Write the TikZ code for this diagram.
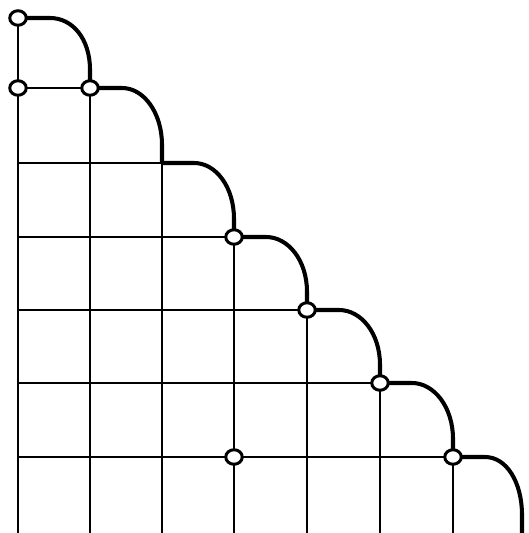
\documentclass[tikz,border=0pt]{standalone}
\usetikzlibrary{shapes.geometric, positioning, calc}

\tikzset{
  gridline/.style={line width=1.4pt},
  stepcurve/.style={line width=2.3pt},
  joint/.style={ellipse, draw, fill=white, line width=1.7pt,
    inner sep=0pt, minimum width=0.33cm, minimum height=0.29cm}
}

\begin{document}
\begin{tikzpicture}[x=0.02cm, y=-0.02cm]
  \useasboundingbox (0,0) rectangle (528,533);

  % corners of the staircase
  \foreach \px/\py [count=\k from 0] in {18/18,90/88,162/163,234/237,307/310,380/383,453/457,522/533}
    \coordinate (p\k) at (\px,\py);
  % left ends of the rows, bottom ends of the columns
  \foreach \k in {0,...,6}
    \coordinate (w\k) at (p0 |- p\k);
  \foreach \k in {0,...,7}
    \coordinate (b\k) at (p\k |- 0,533);

  % grid
  \foreach \k in {1,...,6}
    \draw[gridline] (w\k) -- (p\k);
  \foreach \k in {0,...,6}
    \draw[gridline] (p\k) -- (b\k);

  % staircase of rounded steps
  \foreach \k [evaluate=\k as \n using int(\k+1)] in {0,...,6}
    \draw[stepcurve] (p\k) -- ++(32,0)
      .. controls +(22,0) and +(0,-32) .. ($(p\n)+(0,-18)$) -- (p\n);

  % joints
  \node[joint] (j0) at (p0) {};
  \node[joint] (j1) at (w1) {};
  \node[joint] (j2) at (p1) {};
  \node[joint] (j3) at (p3) {};
  \node[joint] (j4) at (p4) {};
  \node[joint] (j5) at (p5) {};
  \node[joint] (j6) at (p6) {};
  \node[joint] (j7) at (p3 |- p6) {};
\end{tikzpicture}
\end{document}
